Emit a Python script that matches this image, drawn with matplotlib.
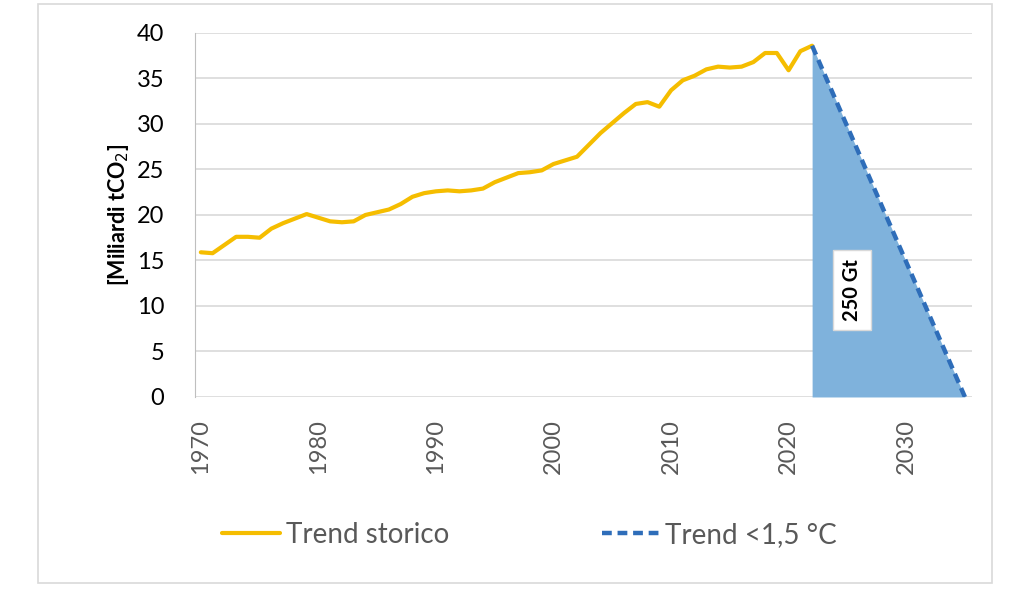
import matplotlib.pyplot as plt
from matplotlib.patches import Rectangle
import numpy as np

plt.rcParams['font.family'] = ['Lato', 'DejaVu Sans']

years = np.arange(1970, 2023)
emissions = [15.9, 15.8, 16.7, 17.6, 17.6, 17.5, 18.5, 19.1, 19.6, 20.1,
             19.7, 19.3, 19.2, 19.3, 20.0, 20.3, 20.6, 21.2, 22.0, 22.4,
             22.6, 22.7, 22.6, 22.7, 22.9, 23.6, 24.1, 24.6, 24.7, 24.9,
             25.6, 26.0, 26.4, 27.7, 29.0, 30.1, 31.2, 32.2, 32.4, 31.9,
             33.7, 34.8, 35.3, 36.0, 36.3, 36.2, 36.3, 36.8, 37.8, 37.8,
             35.9, 38.0, 38.6]
trend_years = [2022, 2035]
trend_values = [38.6, 0]
xticks = [1970, 1980, 1990, 2000, 2010, 2020, 2030]
yticks = [0, 5, 10, 15, 20, 25, 30, 35, 40]

fig = plt.figure(figsize=(10.24, 5.91), dpi=100)
ax = fig.add_axes([0.1904, 0.3283, 0.7588, 0.6159])

fig.patches.append(Rectangle((38 / 1024, 1 - 583 / 591), 954 / 1024, 579 / 591,
                             transform=fig.transFigure, fill=False,
                             edgecolor='#d9d9d9', linewidth=1.2))

ax.fill_between(trend_years, trend_values, 0, color='#7fb2dc', linewidth=0, zorder=2)
ax.plot(years, emissions, color='#f5bd00', linewidth=3, label='Trend storico', zorder=3,
        solid_capstyle='round')
ax.plot(trend_years, trend_values, color='#2e6db9', linewidth=3.2, linestyle=(0, (2.2, 1.3)),
        label='Trend <1,5 °C', zorder=4)

ax.text(2025.4, 11.8, '250 Gt', rotation=90, ha='center', va='center',
        fontsize=14.5, fontweight='bold', zorder=5,
        bbox=dict(facecolor='white', edgecolor='#d9d9d9', boxstyle='square,pad=0.45'))

ax.set_xlim(1969.5, 2035.6)
ax.set_ylim(0, 40)
ax.set_xticks(xticks)
ax.set_xticklabels([str(x) for x in xticks], rotation=90, fontsize=17, color='#595959')
ax.set_yticks(yticks)
ax.set_yticklabels([str(y) for y in yticks], fontsize=17, color='black')
ax.tick_params(axis='x', length=0, pad=16)
ax.tick_params(axis='y', length=0, pad=22)
ax.yaxis.grid(True, color='#d9d9d9', linewidth=1.2, zorder=0)
ax.set_axisbelow(True)
for s in ['top', 'right', 'bottom']:
    ax.spines[s].set_visible(False)
ax.spines['left'].set_color('#bfbfbf')
ax.spines['left'].set_zorder(1)

ax.set_ylabel('[Miliardi tCO$_2$]', fontsize=15.5, fontweight='bold', labelpad=4)

fig.legend(loc='center', bbox_to_anchor=(0.517, 1 - 535 / 591), ncol=2, frameon=False,
           fontsize=20, labelcolor='#595959', handlelength=2.1, handletextpad=0.2,
           columnspacing=5.5)

fig.savefig('out.png', dpi=100)
